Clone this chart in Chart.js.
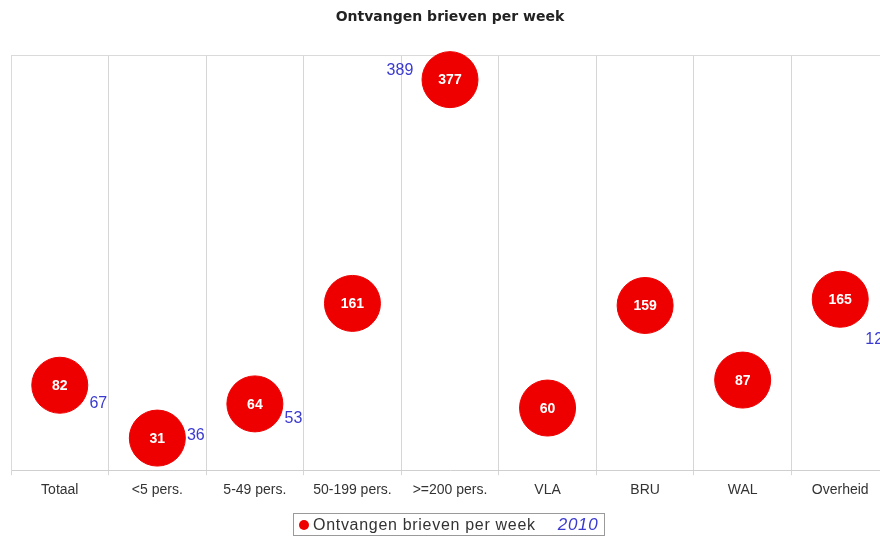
<!DOCTYPE html>
<html>
<head>
<meta charset="utf-8">
<script src="https://cdn.jsdelivr.net/npm/chart.js"></script>
<style>
  html, body { margin: 0; padding: 0; background: #fff; overflow: hidden; }
  #wrap { position: relative; width: 880px; height: 538px; overflow: hidden; }
  #chart { position: absolute; left: 0; top: 0; }
  #legend {
    position: absolute; left: 293px; top: 513px; width: 310px; height: 21px;
    border: 1px solid #9a9a9a; box-sizing: content-box;
    font: 16px "Liberation Sans", Arial, sans-serif; letter-spacing: 0.7px; color: #333;
    display: flex; align-items: center;
  }
  #legend .dot { width: 10px; height: 10px; border-radius: 50%; background: #ee0000; margin: 0 4px 0 5px; }
  #legend .yr { color: #3a3ad0; font-style: italic; font-size: 17px; margin-left: 22px; }
</style>
</head>
<body>
<div id="wrap">
  <canvas id="chart" width="900" height="538"></canvas>
  <div id="legend"><span class="dot"></span><span>Ontvangen brieven per week</span><span class="yr">2010</span></div>
</div>
<script>
// categorieën en waarden
const categories = ['Totaal', '<5 pers.', '5-49 pers.', '50-199 pers.', '>=200 pers.', 'VLA', 'BRU', 'WAL', 'Overheid'];
const brieven = [82, 31, 64, 161, 377, 60, 159, 87, 165];
const brieven2010 = [67, 36, 53, null, 389, null, null, null, 129];
const yTicks = [0, 400];

// tekst in de bollen + blauwe labels voor 2010
const labelPlugin = {
  id: 'labels',
  afterDatasetsDraw(chart) {
    const ctx = chart.ctx;
    const x = chart.scales.x, y = chart.scales.y;
    ctx.save();
    ctx.textBaseline = 'middle';
    ctx.textAlign = 'center';
    ctx.fillStyle = '#fff';
    ctx.font = 'bold 14px "Liberation Sans", Arial, sans-serif';
    brieven.forEach((v, i) => {
      ctx.fillText(String(v), x.getPixelForValue(i), y.getPixelForValue(v) + 1);
    });
    ctx.fillStyle = '#3a3ad0';
    ctx.font = '16px "Liberation Sans", Arial, sans-serif';
    brieven2010.forEach((v, i) => {
      if (v == null) return;
      const side = i === 4 ? -1.3 : 1; // 389 staat links van de bol
      ctx.fillText(String(v), x.getPixelForValue(i) + side * 38.5, y.getPixelForValue(v) + 3);
    });
    ctx.restore();
  }
};

const canvas = document.getElementById('chart');

new Chart(canvas, {
  type: 'line',
  data: {
    labels: categories,
    datasets: [
      {
        label: 'Ontvangen brieven per week',
        data: brieven,
        showLine: false,
        clip: false,
        pointRadius: 28,
        pointHoverRadius: 28,
        pointBackgroundColor: '#ee0000',
        pointBorderColor: '#ee0000',
        borderColor: '#ee0000'
      },
      {
        label: '2010',
        data: brieven2010,
        showLine: false,
        clip: false,
        pointRadius: 0,
        borderColor: '#3a3ad0'
      }
    ]
  },
  options: {
    responsive: false,
    animation: false,
    layout: { autoPadding: false, padding: { left: 11, right: 11, top: 0, bottom: 32 } },
    plugins: {
      legend: { display: false },
      tooltip: { enabled: false },
      title: {
        display: true,
        text: 'Ontvangen brieven per week',
        color: '#222',
        font: { family: '"DejaVu Sans", Verdana, sans-serif', size: 14, weight: 'bold' },
        padding: { top: 9, bottom: 30 }
      }
    },
    scales: {
      x: {
        offset: true,
        grid: { offset: true, color: '#d6d6d6', tickLength: 5 },
        border: { color: '#cfcfcf' },
        ticks: {
          color: '#333', padding: 7, maxRotation: 0, autoSkip: false,
          font: { family: '"Liberation Sans", Arial, sans-serif', size: 14 }
        }
      },
      y: {
        min: yTicks[0],
        max: yTicks[1],
        afterBuildTicks(axis) { axis.ticks = yTicks.map(v => ({ value: v })); },
        afterFit(axis) { axis.width = 0; },
        ticks: { display: false },
        border: { display: true, color: '#dadada' },
        grid: {
          drawTicks: false,
          color: (c) => c.tick && c.tick.value === yTicks[1] ? '#dadada' : 'rgba(0,0,0,0)'
        }
      }
    }
  },
  plugins: [labelPlugin]
});
</script>
</body>
</html>
